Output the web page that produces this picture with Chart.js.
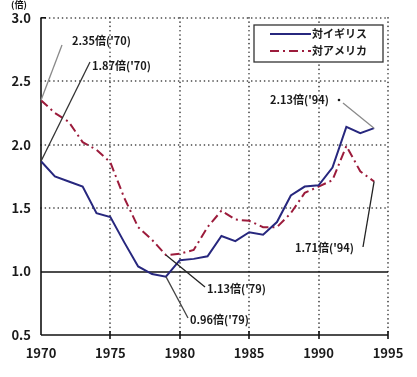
<!DOCTYPE html>
<html>
<head>
<meta charset="utf-8">
<script src="https://cdn.jsdelivr.net/npm/chart.js@4"></script>
<style>
  html, body { margin: 0; padding: 0; background: #fff; }
  #wrap { width: 417px; height: 377px; position: relative; }
</style>
</head>
<body>
<div id="wrap"><canvas id="ratioChart"></canvas></div>
<script>
// data
const years = [1970, 1971, 1972, 1973, 1974, 1975, 1976, 1977, 1978, 1979,
               1980, 1981, 1982, 1983, 1984, 1985, 1986, 1987, 1988, 1989,
               1990, 1991, 1992, 1993, 1994];
const ukValues = [1.87, 1.75, 1.71, 1.67, 1.46, 1.43, 1.23, 1.04, 0.98, 0.96,
                  1.09, 1.10, 1.12, 1.28, 1.24, 1.31, 1.29, 1.39, 1.60, 1.67,
                  1.68, 1.82, 2.14, 2.09, 2.13];
const usValues = [2.35, 2.25, 2.18, 2.02, 1.96, 1.86, 1.58, 1.35, 1.25, 1.13,
                  1.14, 1.17, 1.35, 1.48, 1.41, 1.40, 1.35, 1.35, 1.46, 1.62,
                  1.67, 1.72, 1.99, 1.79, 1.71];
const seriesNames = ['対イギリス', '対アメリカ'];
const xTicks = [1970, 1975, 1980, 1985, 1990, 1995];
const yTicks = [0.5, 1.0, 1.5, 2.0, 2.5, 3.0];
const unitLabel = '(倍)';
// annotation texts and the point each one points at (series index, year)
const noteTexts = ["2.35倍('70)", "1.87倍('70)", "1.13倍('79)", "0.96倍('79)", "2.13倍('94)", "1.71倍('94)"];
const noteSeries = [1, 0, 1, 0, 0, 1];
const noteYears = [1970, 1970, 1979, 1979, 1994, 1994];

const allSeries = [ukValues, usValues];
const fontJP = '"Noto Sans CJK JP", "Noto Sans", sans-serif';

// label placement for the notes (pixels: text left x, text middle y, leader end x/y)
const noteLayout = [
    { tx: 72, ty: 41, lx: 62, ly: 45, color: '#8a8a8a' },
    { tx: 92, ty: 66, lx: 90, ly: 62, color: '#333' },
    { tx: 207, ty: 289, lx: 205, ly: 287, color: '#222' },
    { tx: 190, ty: 320, lx: 188, ly: 318, color: '#444' },
    { tx: 270, ty: 100, lx: 343, ly: 103, color: '#8a8a8a', dot: 339 },
    { tx: 295, ty: 248, lx: 363, ly: 247, color: '#222' }
];

const paperPlugin = {
    id: 'paper',
    beforeDatasetsDraw(chart) {
        const ctx = chart.ctx;
        const xs = chart.scales.x, ys = chart.scales.y;
        const a = chart.chartArea;
        ctx.save();
        // dotted grid
        ctx.strokeStyle = '#333';
        ctx.lineWidth = 1.6;
        ctx.lineCap = 'round';
        ctx.setLineDash([0.1, 4.2]);
        xTicks.slice(1).forEach(v => {
            const x = Math.round(xs.getPixelForValue(v));
            ctx.beginPath(); ctx.moveTo(x, a.top); ctx.lineTo(x, a.bottom); ctx.stroke();
        });
        yTicks.filter(v => v > 1.0).forEach(v => {
            const y = Math.round(ys.getPixelForValue(v));
            ctx.beginPath(); ctx.moveTo(a.left, y); ctx.lineTo(a.right, y); ctx.stroke();
        });
        ctx.setLineDash([]);
        ctx.lineCap = 'butt';
        // solid axes and the 1.0 line
        ctx.strokeStyle = '#111';
        ctx.lineWidth = 1.6;
        const y1 = Math.round(ys.getPixelForValue(1.0));
        ctx.beginPath(); ctx.moveTo(a.left, y1); ctx.lineTo(a.right, y1); ctx.stroke();
        ctx.beginPath(); ctx.moveTo(a.left, a.bottom); ctx.lineTo(a.right, a.bottom); ctx.stroke();
        ctx.beginPath(); ctx.moveTo(a.left, a.top); ctx.lineTo(a.left, a.bottom); ctx.stroke();
        ctx.beginPath(); ctx.moveTo(a.left, a.top); ctx.lineTo(a.left + 5, a.top); ctx.stroke();
        // small ticks on the bottom axis
        xTicks.slice(1).forEach(v => {
            const x = Math.round(xs.getPixelForValue(v));
            ctx.beginPath(); ctx.moveTo(x, a.bottom - 4); ctx.lineTo(x, a.bottom + 4); ctx.stroke();
        });
        ctx.restore();
    },
    afterDatasetsDraw(chart) {
        const ctx = chart.ctx;
        const xs = chart.scales.x, ys = chart.scales.y;
        ctx.save();
        // unit label
        ctx.fillStyle = '#111';
        ctx.font = 'bold 9px ' + fontJP;
        ctx.textAlign = 'left';
        ctx.textBaseline = 'middle';
        ctx.fillText(unitLabel, 11, 5);

        // notes with leader lines
        ctx.font = 'bold 11px ' + fontJP;
        noteTexts.forEach((t, i) => {
            const L = noteLayout[i];
            const vals = allSeries[noteSeries[i]];
            const v = vals[years.indexOf(noteYears[i])];
            const px = xs.getPixelForValue(noteYears[i]);
            const py = ys.getPixelForValue(v);
            ctx.strokeStyle = L.color;
            ctx.lineWidth = 1.3;
            ctx.beginPath(); ctx.moveTo(px, py); ctx.lineTo(L.lx, L.ly); ctx.stroke();
            ctx.fillStyle = '#1a1a1a';
            ctx.fillText(t, L.tx, L.ty);
            if (L.dot) {
                ctx.beginPath(); ctx.arc(L.dot, L.ty, 1.3, 0, Math.PI * 2); ctx.fill();
            }
        });

        // legend box
        const bx = 254, by = 25, bw = 129, bh = 37;
        ctx.fillStyle = '#fff';
        ctx.fillRect(bx, by, bw, bh);
        ctx.strokeStyle = '#333';
        ctx.lineWidth = 1.3;
        ctx.strokeRect(bx, by, bw, bh);
        chart.data.datasets.forEach((ds, i) => {
            const ly = by + 9 + i * 17;
            ctx.strokeStyle = ds.borderColor;
            ctx.lineWidth = 2;
            ctx.setLineDash(ds.borderDash || []);
            ctx.beginPath(); ctx.moveTo(bx + 16, ly); ctx.lineTo(bx + 57, ly); ctx.stroke();
            ctx.setLineDash([]);
            ctx.fillStyle = '#1a1a1a';
            ctx.font = 'bold 11px ' + fontJP;
            ctx.fillText(ds.label, bx + 58, ly);
        });
        ctx.restore();
    }
};

const ctx = document.getElementById('ratioChart').getContext('2d');
const ratioChart = new Chart(ctx, {
    type: 'line',
    plugins: [paperPlugin],
    data: {
        labels: years,
        datasets: [{
            label: seriesNames[0],
            data: years.map((y, i) => ({ x: y, y: ukValues[i] })),
            borderColor: '#27277e',
            borderWidth: 2,
            pointRadius: 0,
            tension: 0,
            fill: false
        }, {
            label: seriesNames[1],
            data: years.map((y, i) => ({ x: y, y: usValues[i] })),
            borderColor: '#9c1c3c',
            borderWidth: 2,
            borderDash: [9, 4, 2, 4],
            pointRadius: 0,
            tension: 0,
            fill: false
        }]
    },
    options: {
        responsive: true,
        maintainAspectRatio: false,
        animation: false,
        layout: { padding: { top: 16, right: 29, left: 0, bottom: 0 } },
        plugins: {
            legend: { display: false },
            tooltip: { enabled: false }
        },
        scales: {
            x: {
                type: 'linear',
                min: 1970,
                max: 1995,
                afterBuildTicks: scale => { scale.ticks = xTicks.map(v => ({ value: v })); },
                afterFit: scale => { scale.height = 42; },
                grid: { display: false, drawTicks: false },
                border: { display: false },
                ticks: {
                    padding: 10,
                    color: '#1a1a1a',
                    font: { family: fontJP, size: 13, weight: 'bold' },
                    callback: v => String(v)
                }
            },
            y: {
                min: 0.5,
                max: 3.0,
                afterBuildTicks: scale => { scale.ticks = yTicks.map(v => ({ value: v })); },
                afterFit: scale => { scale.width = 41; },
                grid: { display: false, drawTicks: false },
                border: { display: false },
                ticks: {
                    padding: 10,
                    color: '#1a1a1a',
                    font: { family: fontJP, size: 13, weight: 'bold' },
                    callback: v => v.toFixed(1)
                }
            }
        }
    }
});
</script>
</body>
</html>
